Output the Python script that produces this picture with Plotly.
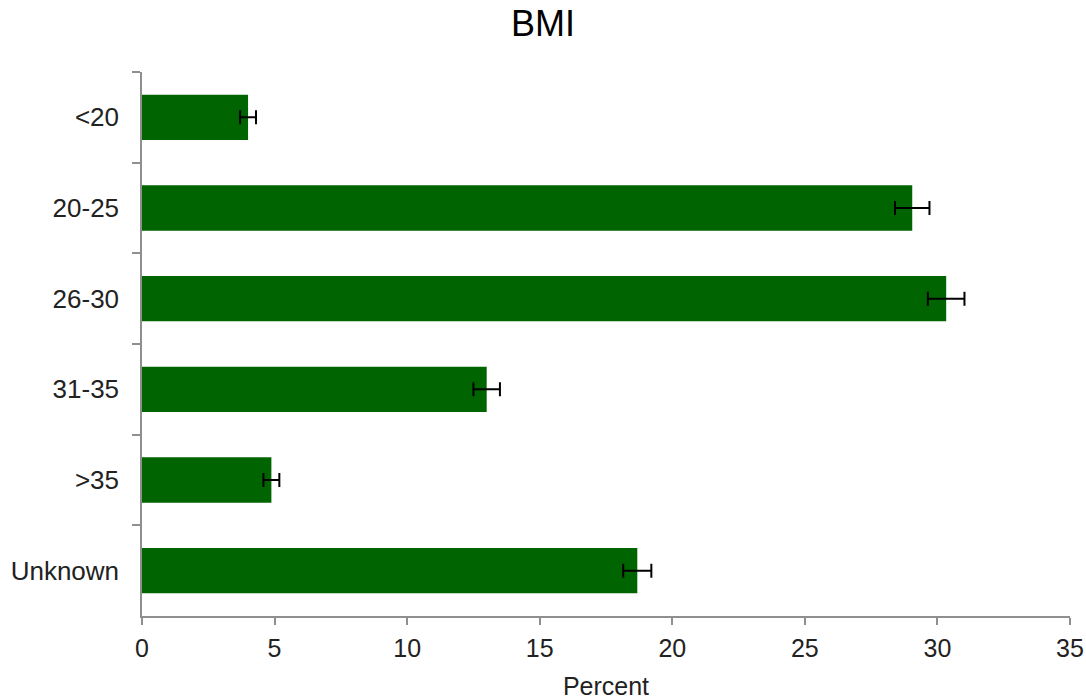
import plotly.graph_objects as go

categories = ["<20", "20-25", "26-30", "31-35", ">35", "Unknown"]
values = [4.0, 29.05, 30.33, 13.0, 4.88, 18.68]
errors = [0.3, 0.65, 0.69, 0.5, 0.3, 0.53]
x_ticks = [0, 5, 10, 15, 20, 25, 30, 35]

fig = go.Figure(go.Bar(
    x=values, y=categories, orientation="h",
    marker=dict(color="#006400", line=dict(width=0)),
    width=0.5,
    error_x=dict(type="data", array=errors, visible=True, color="black", thickness=2, width=7),
))

font = "Liberation Sans, Arial, sans-serif"
fig.update_layout(
    width=1086, height=700,
    margin=dict(l=142, r=16, t=72, b=84),
    paper_bgcolor="white", plot_bgcolor="white",
    title=dict(text="BMI", x=0.5, xanchor="center", y=0.966, yanchor="middle",
               font=dict(family=font, size=36, color="black")),
    font=dict(family=font, size=25, color="#222222"),
    showlegend=False,
    xaxis=dict(range=[0, 35], tickvals=x_ticks, showgrid=False, zeroline=False,
               showline=True, linecolor="#8f8f8f", linewidth=1.5, automargin=False,
               ticks="outside", ticklen=7, tickcolor="#8f8f8f", tickwidth=1.5,
               ticklabelstandoff=2,
               title=dict(text="Percent", standoff=27, font=dict(size=25, color="#222222")),
               tickfont=dict(size=25, color="#222222")),
    yaxis=dict(categoryorder="array", categoryarray=categories, autorange="reversed",
               showgrid=False, zeroline=False, showline=True, linecolor="#8f8f8f", linewidth=1.5,
               automargin=False, ticklabelstandoff=16,
               ticks="outside", ticklen=8, tickcolor="#8f8f8f", tickwidth=1.5,
               tickson="boundaries", tickfont=dict(size=26, color="#222222")),
)

fig.write_html("out.html", config={"displayModeBar": False},
               post_script="document.body.style.margin='0';document.body.style.overflow='hidden';")
